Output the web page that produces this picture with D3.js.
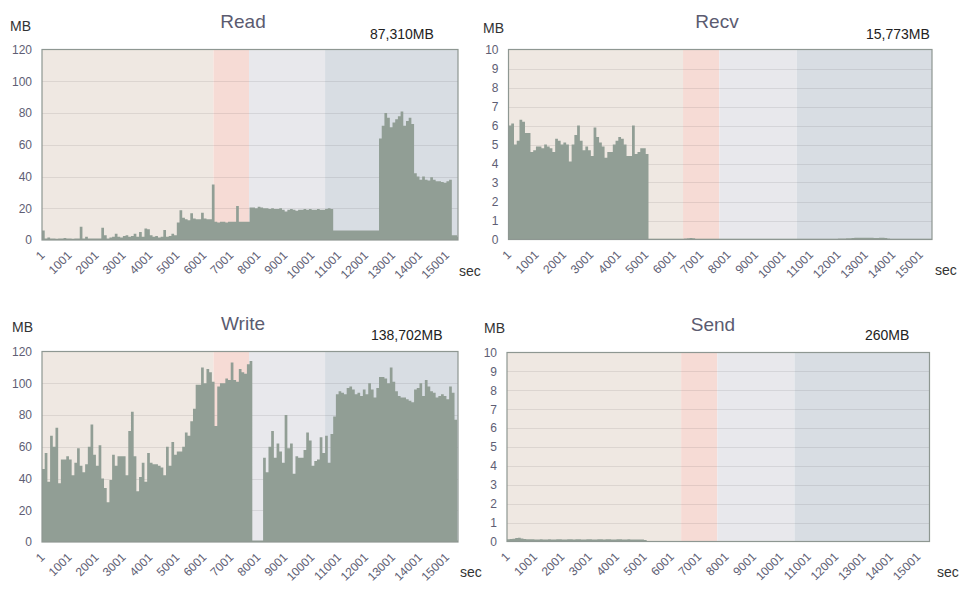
<!DOCTYPE html>
<html><head><meta charset="utf-8">
<script src="https://cdn.jsdelivr.net/npm/d3@7"></script>
<style>
body{margin:0;background:#fff;}
svg{display:block;font-family:"Liberation Sans",Arial,sans-serif;}
</style>
</head><body>
<svg id="c" width="974" height="592"></svg>
<script>
// ---------- DATA ----------
// samples every 100 seconds, starting at second 1
const sampleStep = 100;
const timeEnd = 15430;
const xTickLabels = [1,1001,2001,3001,4001,5001,6001,7001,8001,9001,10001,11001,12001,13001,14001,15001];
const phaseEdges = [1, 6360, 7680, 10500, 15430];
const phaseColors = ["#efe8e2", "#f6dbd5", "#e8e8ec", "#d8dde3"];

const readTicks = [0,20,40,60,80,100,120];
const netTicks = [0,1,2,3,4,5,6,7,8,9,10];

const readValues = [
 6, 1, 1.5, 1, 1, 0.8, 1, 1, 1.2, 1,
 1, 0.8, 1, 1, 8.4, 1, 2, 1, 1, 1,
 1, 1, 7.7, 3, 1, 1.5, 2, 4, 2, 1.5,
 2.5, 3, 2, 2.5, 4, 2, 5, 2, 7.3, 6.7,
 3, 2, 2.5, 1.5, 2, 6.3, 2, 2.5, 4, 3,
 11, 18.8, 14, 13, 12.5, 16.8, 13.5, 13, 13, 17.2,
 13.5, 13, 13, 35, 11.5, 11, 11.5, 11.5, 11, 11.5,
 11.5, 11.5, 21.4, 11.5, 11.5, 11.5, 11.5, 20.5, 20.5, 20,
 21, 20.5, 20, 20, 19.5, 20, 19.5, 19.5, 20, 19,
 18, 19, 19.5, 19, 18.5, 19, 19, 19.5, 19, 19.5,
 19, 19, 19.5, 19, 19, 19.5, 20, 19.5, 6, 6,
 6, 6, 6, 6, 6, 6, 6, 6, 6, 6,
 6, 6, 6, 6, 6, 64, 72, 80, 77, 71,
 74, 76, 78, 81, 72, 75, 77, 73, 42, 40,
 38, 40, 38, 37.5, 39.5, 38, 37, 37, 36.5, 36,
 37, 38, 3, 3, 2
];

const recvValues = [
 6.0, 6.1, 5.0, 5.2, 6.3, 6.2, 5.6, 5.6, 4.6, 4.7,
 4.9, 4.9, 4.8, 5.0, 4.9, 4.8, 4.6, 5.3, 5.2, 5.0,
 5.1, 5.0, 4.1, 5.0, 5.5, 6.0, 5.2, 4.7, 4.9, 4.7,
 4.4, 5.9, 5.4, 5.1, 4.9, 4.3, 4.6, 4.6, 5.0, 5.2,
 5.4, 5.3, 5.0, 4.4, 4.4, 6.0, 4.5, 4.6, 4.8, 4.8,
 4.5, 0.04, 0.04, 0.04, 0.04, 0.04, 0.04, 0.04, 0.04, 0.04,
 0.04, 0.04, 0.04, 0.04, 0.05, 0.06, 0.08, 0.06, 0.04, 0.04,
 0.04, 0.04, 0.04, 0.04, 0.04, 0.04, 0.04, 0.04, 0.04, 0.04,
 0.04, 0.04, 0.04, 0.04, 0.04, 0.04, 0.04, 0.04, 0.04, 0.04,
 0.04, 0.04, 0.04, 0.04, 0.04, 0.04, 0.04, 0.04, 0.04, 0.04,
 0.04, 0.04, 0.04, 0.04, 0.04, 0.04, 0.04, 0.04, 0.04, 0.04,
 0.04, 0.04, 0.04, 0.04, 0.04, 0.04, 0.04, 0.04, 0.04, 0.04,
 0.05, 0.05, 0.05, 0.06, 0.06, 0.08, 0.09, 0.09, 0.09, 0.09,
 0.09, 0.09, 0.09, 0.08, 0.08, 0.09, 0.09, 0.08, 0.05, 0.04,
 0.04, 0.04, 0.04, 0.04, 0.04, 0.04, 0.04, 0.04, 0.04, 0.04,
 0.04, 0.04, 0.04, 0.04, 0.04
];

const writeValues = [
 46, 56, 38, 67, 60, 72, 37, 52, 52, 54,
 52, 42, 50, 59, 48, 44, 49, 60, 74, 55,
 48, 61, 40, 34, 25, 39, 55, 48, 54, 54,
 54, 42, 70, 82, 54, 32, 41, 50, 38, 56,
 50, 49, 49, 48, 47, 42, 60, 48, 63, 55,
 57, 57, 60, 69, 67, 76, 84, 99, 99, 110,
 100, 109, 107, 101, 73, 98, 100, 100, 103, 102,
 113, 102, 101, 109, 107, 106, 112, 114, 1, 1,
 1, 1, 53, 44, 60, 70, 53, 62, 57, 50,
 80, 59, 62, 43, 54, 53, 53, 58, 69, 64,
 48, 51, 52, 66, 56, 67, 50, 68, 79, 93,
 95, 94, 93, 97, 98, 96, 93, 94, 92, 96,
 93, 100, 96, 91, 97, 104, 104, 103, 100, 110,
 101, 95, 92, 91, 91, 90, 89, 88, 96, 97,
 100, 92, 102, 98, 95, 94, 91, 92, 93, 92,
 90, 98, 94, 77, 1
];

const sendValues = [
 0.12, 0.13, 0.15, 0.18, 0.2, 0.16, 0.13, 0.12, 0.12, 0.12,
 0.11, 0.11, 0.12, 0.11, 0.11, 0.12, 0.11, 0.11, 0.12, 0.12,
 0.11, 0.11, 0.12, 0.12, 0.11, 0.12, 0.12, 0.11, 0.11, 0.12,
 0.12, 0.11, 0.11, 0.12, 0.12, 0.11, 0.12, 0.12, 0.11, 0.11,
 0.12, 0.12, 0.11, 0.11, 0.12, 0.11, 0.11, 0.1, 0.1, 0.1,
 0.08, 0.02, 0.02, 0.02, 0.02, 0.02, 0.02, 0.02, 0.02, 0.02,
 0.02, 0.02, 0.02, 0.02, 0.02, 0.02, 0.02, 0.02, 0.02, 0.02,
 0.02, 0.02, 0.02, 0.02, 0.02, 0.02, 0.02, 0.02, 0.02, 0.02,
 0.02, 0.02, 0.02, 0.02, 0.02, 0.02, 0.02, 0.02, 0.02, 0.02,
 0.02, 0.02, 0.02, 0.02, 0.02, 0.02, 0.02, 0.02, 0.02, 0.02,
 0.02, 0.02, 0.02, 0.02, 0.02, 0.02, 0.02, 0.02, 0.02, 0.02,
 0.02, 0.02, 0.02, 0.02, 0.02, 0.02, 0.02, 0.02, 0.02, 0.02,
 0.02, 0.02, 0.02, 0.02, 0.02, 0.02, 0.02, 0.02, 0.02, 0.02,
 0.02, 0.02, 0.02, 0.02, 0.02, 0.02, 0.02, 0.02, 0.02, 0.02,
 0.02, 0.02, 0.02, 0.02, 0.02, 0.02, 0.02, 0.02, 0.02, 0.02,
 0.02, 0.02, 0.02, 0.02, 0.02
];

const panelTitles = ["Read", "Recv", "Write", "Send"];
const panelTotals = ["87,310MB", "15,773MB", "138,702MB", "260MB"];
const unitLabel = "MB";
const xUnitLabel = "sec";

// ---------- LAYOUT ----------
const panels = [
  {title: panelTitles[0], total: panelTotals[0], values: readValues, ticks: readTicks,
   x0: 42, x1: 458, y0: 49.5, y1: 240, titleX: 243, titleY: 28, mbX: 10, mbY: 31, totalX: 370, totalY: 39, secX: 459, secY: 276},
  {title: panelTitles[1], total: panelTotals[1], values: recvValues, ticks: netTicks,
   x0: 508.5, x1: 932, y0: 49.5, y1: 239.5, titleX: 717, titleY: 28, mbX: 483, mbY: 33, totalX: 866, totalY: 39, secX: 935, secY: 275},
  {title: panelTitles[2], total: panelTotals[2], values: writeValues, ticks: readTicks,
   x0: 42, x1: 458, y0: 351.5, y1: 542, titleX: 243, titleY: 330, mbX: 12, mbY: 332, totalX: 371, totalY: 340, secX: 460, secY: 577},
  {title: panelTitles[3], total: panelTotals[3], values: sendValues, ticks: netTicks,
   x0: 507, x1: 929.5, y0: 352.5, y1: 541.5, titleX: 713, titleY: 331, mbX: 484, mbY: 333, totalX: 865, totalY: 340, secX: 937, secY: 577}
];

const svg = d3.select("#c");

panels.forEach(p => {
  const g = svg.append("g");
  const x = d3.scaleLinear().domain([1, timeEnd]).range([p.x0, p.x1]);
  const yMax = p.ticks[p.ticks.length - 1];
  const y = d3.scaleLinear().domain([0, yMax]).range([p.y1, p.y0]);

  // phase bands
  g.selectAll("rect.band").data(phaseColors).join("rect")
    .attr("x", (d, i) => x(phaseEdges[i]))
    .attr("y", p.y0)
    .attr("width", (d, i) => x(phaseEdges[i + 1]) - x(phaseEdges[i]))
    .attr("height", p.y1 - p.y0)
    .attr("fill", d => d);

  // gridlines
  g.append("g").selectAll("line").data(p.ticks.slice(1, -1)).join("line")
    .attr("x1", p.x0).attr("x2", p.x1)
    .attr("y1", d => Math.round(y(d)) + 0.5).attr("y2", d => Math.round(y(d)) + 0.5)
    .attr("stroke", "#000").attr("stroke-opacity", 0.08);

  // series
  const pts = p.values.map((v, i) => ({t: 1 + i * sampleStep, v}));
  pts.push({t: timeEnd, v: p.values[p.values.length - 1]});
  const area = d3.area().curve(d3.curveStepAfter)
    .x(d => x(d.t)).y0(y(0)).y1(d => y(d.v));
  g.append("path").datum(pts).attr("d", area).attr("fill", "#919e95");

  // frame
  g.append("rect").attr("x", p.x0).attr("y", p.y0)
    .attr("width", p.x1 - p.x0).attr("height", p.y1 - p.y0)
    .attr("fill", "none").attr("stroke", "#8e9792").attr("stroke-width", 1.2);

  // y axis
  const ya = d3.axisLeft(y).tickValues(p.ticks).tickSize(0).tickPadding(10);
  const yg = g.append("g").attr("transform", `translate(${p.x0},0)`).call(ya);
  yg.select(".domain").remove();
  yg.selectAll("text").attr("fill", "#5e5e74").style("font-size", "12px")
    .style("font-family", '"Liberation Sans",Arial,sans-serif');

  // x axis
  const xa = d3.axisBottom(x).tickValues(xTickLabels).tickSize(0).tickFormat(d3.format("d"));
  const xg = g.append("g").attr("transform", `translate(0,${p.y1})`).call(xa);
  xg.select(".domain").remove();
  xg.selectAll("text")
    .attr("fill", "#5e5e74").style("font-size", "12px")
    .style("font-family", '"Liberation Sans",Arial,sans-serif')
    .attr("text-anchor", "end").attr("y", 0).attr("dy", 0)
    .attr("transform", "translate(3,16) rotate(-45)");

  // texts
  g.append("text").attr("x", p.titleX).attr("y", p.titleY).attr("text-anchor", "middle")
    .attr("fill", "#5b5b70").style("font-size", "19px").text(p.title);
  g.append("text").attr("x", p.mbX).attr("y", p.mbY)
    .attr("fill", "#333").style("font-size", "14px").text(unitLabel);
  g.append("text").attr("x", p.totalX).attr("y", p.totalY)
    .attr("fill", "#222").style("font-size", "14px").text(p.total);
  g.append("text").attr("x", p.secX).attr("y", p.secY)
    .attr("fill", "#333").style("font-size", "14px").text(xUnitLabel);
});
</script>
</body></html>
